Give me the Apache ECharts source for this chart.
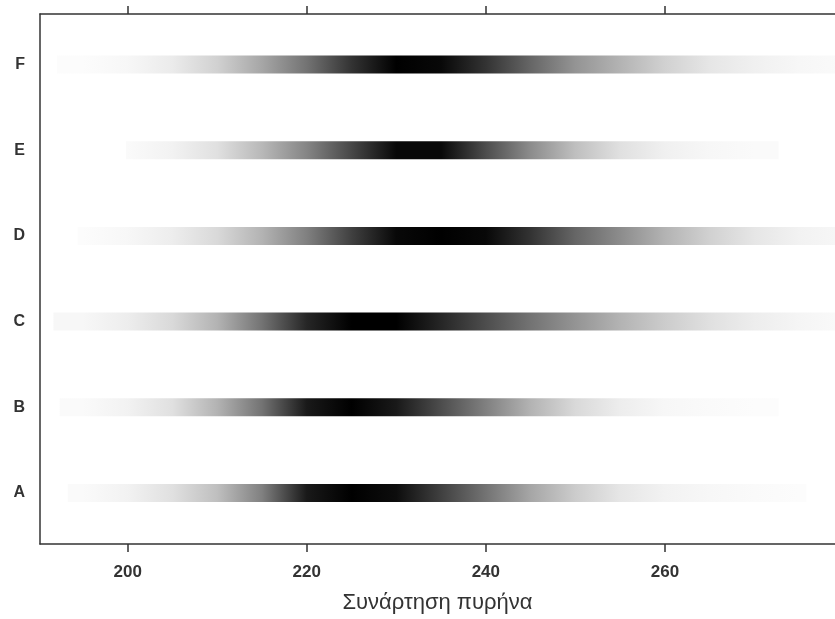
<!DOCTYPE html>
<html>
<head>
<meta charset="utf-8">
<script src="https://cdn.jsdelivr.net/npm/echarts@6/dist/echarts.min.js"></script>
<style>
  html, body { margin: 0; padding: 0; background: #fff; }
  #main { width: 835px; height: 619px; }
</style>
</head>
<body>
<div id="main"></div>
<script>
var groups = ['A', 'B', 'C', 'D', 'E', 'F'];
var xSamples = [190, 195, 200, 205, 210, 215, 220, 225, 230, 235, 240, 245, 250, 255, 260, 265, 270, 275, 280];
var xTicks = [200, 220, 240, 260];
// where each strip starts / ends on the x axis
var stripStart = [193.3, 192.4, 191.7, 194.4, 199.8, 192.1];
var stripEnd = [275.8, 272.7, 281, 281, 272.7, 281];

var densA = [0, 0.02, 0.05, 0.12, 0.25, 0.5, 0.9, 1.0, 0.95, 0.75, 0.55, 0.35, 0.2, 0.1, 0.05, 0.03, 0.02, 0.01, 0];
var densB = [0, 0.02, 0.05, 0.12, 0.3, 0.55, 0.9, 1.0, 0.9, 0.7, 0.5, 0.3, 0.15, 0.07, 0.03, 0.02, 0.01, 0, 0];
var densC = [0.01, 0.03, 0.07, 0.15, 0.3, 0.55, 0.85, 1.0, 1.0, 0.85, 0.7, 0.55, 0.42, 0.3, 0.2, 0.12, 0.07, 0.04, 0.02];
var densD = [0, 0.01, 0.03, 0.07, 0.15, 0.3, 0.5, 0.75, 0.97, 1.0, 0.97, 0.8, 0.6, 0.45, 0.3, 0.18, 0.1, 0.05, 0.03];
var densE = [0, 0, 0.02, 0.05, 0.12, 0.28, 0.48, 0.72, 0.97, 0.97, 0.7, 0.45, 0.25, 0.12, 0.06, 0.03, 0.02, 0.01, 0];
var densF = [0, 0.01, 0.03, 0.08, 0.18, 0.35, 0.55, 0.8, 1.0, 0.97, 0.8, 0.6, 0.42, 0.3, 0.18, 0.1, 0.06, 0.03, 0.02];
var density = [densA, densB, densC, densD, densE, densF];

var chart = echarts.init(document.getElementById('main'));
var FONT = 'Liberation Sans, Arial, sans-serif';

function gray(d) {
    var v = Math.round(255 * (1 - d));
    return 'rgb(' + v + ',' + v + ',' + v + ')';
}

// one gradient rect per group, stops taken from the sampled densities
function renderStrip(params, api) {
    var g = api.value(2);
    var s = stripStart[g], e = stripEnd[g];
    var p0 = api.coord([s, g + 1]);
    var p1 = api.coord([e, g + 1]);
    var stops = [];
    for (var i = 0; i < xSamples.length; i++) {
        var x = xSamples[i];
        if (x >= s && x <= e) {
            stops.push({ offset: (x - s) / (e - s), color: gray(density[g][i]) });
        }
    }
    stops.unshift({ offset: 0, color: stops[0].color });
    stops.push({ offset: 1, color: stops[stops.length - 1].color });
    return {
        type: 'rect',
        shape: { x: p0[0], y: p0[1] - 9, width: p1[0] - p0[0], height: 18 },
        style: { fill: new echarts.graphic.LinearGradient(0, 0, 1, 0, stops) }
    };
}

var axisLine = { show: true, lineStyle: { color: '#333', width: 1.5 } };

chart.setOption({
    backgroundColor: '#fff',
    animation: false,
    grid: { left: 40, right: 0, top: 14, bottom: 75, outerBoundsMode: 'none' },
    xAxis: [{
        type: 'value',
        position: 'bottom',
        min: 190.2,
        max: 279,
        name: 'Συνάρτηση πυρήνα',
        nameLocation: 'middle',
        nameGap: 48,
        nameTextStyle: { fontFamily: FONT, fontSize: 22, color: '#333' },
        axisLine: axisLine,
        axisTick: { show: true, length: 8, customValues: xTicks, lineStyle: { color: '#333', width: 1.5 } },
        axisLabel: { customValues: xTicks, margin: 20, fontFamily: FONT, fontSize: 17, fontWeight: 'bold', color: '#333' },
        splitLine: { show: false }
    }, {
        type: 'value',
        position: 'top',
        min: 190.2,
        max: 279,
        axisLine: axisLine,
        axisTick: { show: true, length: 8, customValues: xTicks, lineStyle: { color: '#333', width: 1.5 } },
        axisLabel: { show: false },
        splitLine: { show: false }
    }],
    yAxis: {
        type: 'value',
        min: 0.405,
        max: 6.589,
        axisLine: axisLine,
        axisTick: { show: false },
        axisLabel: {
            customValues: [1, 2, 3, 4, 5, 6],
            margin: 15,
            fontFamily: FONT,
            fontSize: 16,
            fontWeight: 'bold',
            color: '#333',
            formatter: function (v) { return groups[Math.round(v) - 1]; }
        },
        splitLine: { show: false }
    },
    series: [{
        type: 'custom',
        clip: true,
        renderItem: renderStrip,
        encode: { x: 0, y: 1 },
        data: groups.map(function (name, i) { return [stripStart[i], i + 1, i]; })
    }]
});
</script>
</body>
</html>
